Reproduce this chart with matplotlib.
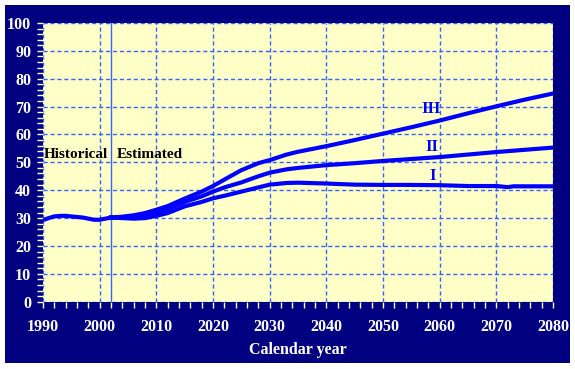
import matplotlib
matplotlib.use('Agg')
import matplotlib.pyplot as plt
from matplotlib.patches import Rectangle
from matplotlib.ticker import MultipleLocator

#--- Data
hist_years = list(range(1990, 2003))
hist_vals = [29.3, 30.0, 30.6, 30.8, 30.8, 30.6, 30.4, 30.2, 29.8, 29.4, 29.4, 29.8, 30.2]

proj_years = [2002, 2004, 2006, 2008, 2010, 2012, 2015, 2018, 2020, 2022, 2025, 2028,
              2030, 2033, 2035, 2040, 2045, 2050, 2055, 2060, 2065, 2070, 2075, 2080]
alt3 = [30.2, 30.5, 31.0, 31.8, 33.0, 34.3, 37.0, 39.5, 41.5, 43.8, 47.2, 49.7,
        50.8, 52.8, 53.8, 55.8, 58.0, 60.3, 62.6, 65.0, 67.6, 70.1, 72.5, 74.7]
alt2 = [30.2, 30.3, 30.6, 31.0, 32.0, 33.2, 35.8, 37.8, 39.5, 41.0, 42.8, 45.0,
        46.3, 47.5, 48.0, 49.0, 49.7, 50.5, 51.2, 51.9, 52.8, 53.7, 54.5, 55.3]
alt1_years = [2002, 2004, 2006, 2008, 2010, 2012, 2015, 2018, 2020, 2022, 2025, 2028,
              2030, 2033, 2035, 2040, 2045, 2050, 2055, 2060, 2065, 2070, 2072, 2073, 2075, 2080]
alt1 = [30.2, 30.0, 29.8, 30.0, 30.8, 31.8, 34.2, 35.8, 37.1, 38.0, 39.5, 41.0,
        42.0, 42.6, 42.7, 42.4, 42.0, 41.9, 41.9, 41.8, 41.5, 41.5, 41.1, 41.4, 41.4, 41.4]

alt_labels = ['III', 'II', 'I']
label_pos = [(2058.5, 69.3), (2058.6, 55.6), (2058.7, 45.2)]

NAVY = '#000080'
LINE = '#0000FF'
GRID = '#3366FF'
FONT = 'Liberation Serif'

fig = plt.figure(figsize=(5.75, 3.69), dpi=100, facecolor='white')
fig.patches.append(Rectangle((5 / 575, 1 - 363 / 369), 565 / 575, 358 / 369,
                             transform=fig.transFigure, facecolor=NAVY,
                             edgecolor='none', zorder=-1))

ax = fig.add_axes([43 / 575, 1 - 301.7 / 369, 510 / 575, 278.7 / 369])
ax.set_zorder(1)
ax.set_facecolor('#FFFFC8')

#--- Grid and divider between historical and estimated
ax.grid(True, which='major', color=GRID, linestyle=(0, (3, 2)), linewidth=1)
ax.set_axisbelow(True)
ax.axvline(2002, color=GRID, linewidth=1, zorder=2)

#--- Lines
ax.plot(hist_years, hist_vals, color=LINE, linewidth=3, zorder=3)
ax.plot(proj_years, alt3, color=LINE, linewidth=3, zorder=3)
ax.plot(proj_years, alt2, color=LINE, linewidth=3, zorder=3)
ax.plot(alt1_years, alt1, color=LINE, linewidth=3, zorder=3)

for lab, (x, y) in zip(alt_labels, label_pos):
	ax.text(x, y, lab, color=LINE, fontsize=12, fontweight='bold', family=FONT,
	        ha='center', va='center', zorder=4)

ax.text(2001.5, 52.8, 'Historical', color='black', fontsize=11, fontweight='bold',
        family=FONT, ha='right', va='center')
ax.text(2003.1, 52.8, 'Estimated', color='black', fontsize=11, fontweight='bold',
        family=FONT, ha='left', va='center')

#--- Axes
ax.set_xlim(1990, 2080)
ax.set_ylim(0, 100)
ax.xaxis.set_major_locator(MultipleLocator(10))
ax.xaxis.set_minor_locator(MultipleLocator(2))
ax.yaxis.set_major_locator(MultipleLocator(10))
ax.yaxis.set_minor_locator(MultipleLocator(2))
ax.tick_params(which='both', direction='out', length=4, width=1, color='white')
ax.tick_params(axis='x', which='major', pad=8.5)
ax.tick_params(axis='y', which='major', pad=4.5)
for spine in ax.spines.values():
	spine.set_visible(False)

for lbl in ax.get_xticklabels() + ax.get_yticklabels():
	lbl.set_color('white')
	lbl.set_fontsize(11.5)
	lbl.set_fontweight('bold')
	lbl.set_family(FONT)

ax.set_xlabel('Calendar year', color='white', fontsize=11.5, fontweight='bold',
              family=FONT, labelpad=5)

fig.savefig('out.png', dpi=100, facecolor='white')
